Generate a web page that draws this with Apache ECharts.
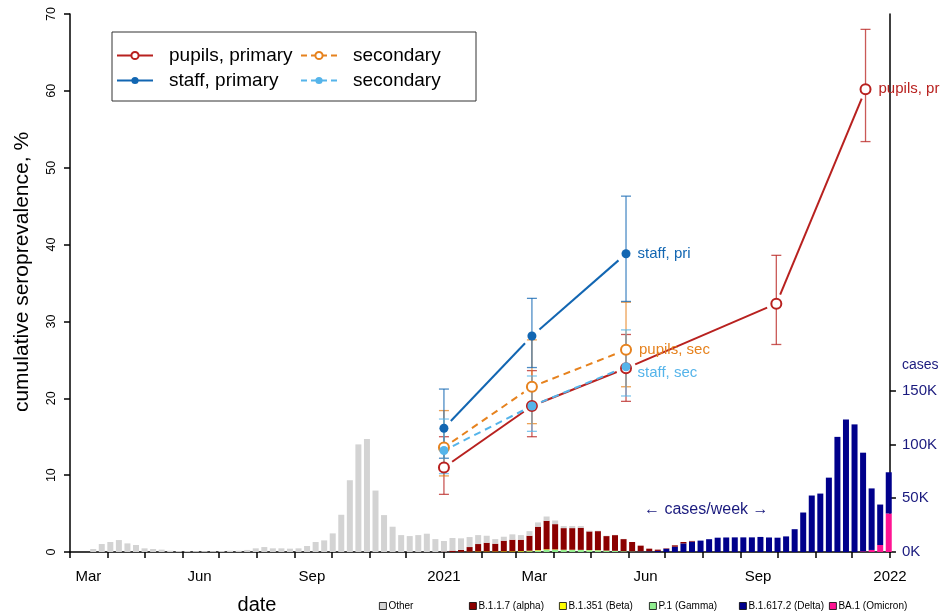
<!DOCTYPE html>
<html><head><meta charset="utf-8">
<script src="https://cdn.jsdelivr.net/npm/echarts@6/dist/echarts.min.js"></script>
<style>html,body{margin:0;padding:0;background:#fff}#c{width:940px;height:616px}</style>
</head><body><div id="c"></div>
<script>
const FONT = '"Liberation Sans", Arial, Helvetica, sans-serif';

// ---- seroprevalence survey rounds ----
const roundDates = ['2021-01-01', '2021-03-14', '2021-05-30', '2021-09-30', '2021-12-12'];
const pupilsPrimary   = [11.0, 19.0, 23.9, 32.3, 60.2];
const pupilsPrimaryLo = [7.5, 15.0, 19.6, 27.0, 53.4];
const pupilsPrimaryHi = [15.0, 23.6, 28.3, 38.6, 68.0];
const pupilsSecondary   = [13.6, 21.5, 26.3];
const pupilsSecondaryLo = [9.9, 16.7, 21.5];
const pupilsSecondaryHi = [18.4, 27.6, 32.5];
const staffPrimary   = [16.1, 28.1, 38.8];
const staffPrimaryLo = [12.2, 24.0, 32.6];
const staffPrimaryHi = [21.2, 33.0, 46.3];
const staffSecondary   = [13.2, 19.0, 24.1];
const staffSecondaryLo = [10.2, 15.7, 20.3];
const staffSecondaryHi = [17.3, 22.9, 28.9];

// ---- weekly cases by variant (thousands), weeks centred from 2020-03-20 ----
const firstWeek = '2020-03-20';
const weekCount = 94;
const otherCases = [2.8,7.4,9.3,11.1,8.0,6.5,3.4,2.8,2.2,1.2,
  0.9,0.9,0.8,0.8,0.8,0.9,1.2,1.2,1.9,3.4,
  4.6,3.4,3.4,3.1,3.4,5.6,9.3,10.8,17.3,34.6,
  66.7,100,105,57.1,34.3,23.5,15.7,14.8,15.7,17.0,
  12.0,9.9,11.8,10.8,9.3,8.3,6.5,4.3,3.7,5.0,
  4.3,4.3,4.0,4.0,3.4,1.9,1.9,1.6,0.7,0.4,
  0.3,0.2,0.2];
const alphaStart = 41;
const alphaCases = [0.3,1.2,1.7,4.3,6.9,8.1,7.2,9.9,10.8,10.5,13.9,21.8,26.5,23.5,20.1,20.1,20.5,17.3,17.7,13.5,14.6,11.3,8.7,5.3,2.4,1.2,0.4,1.3,1.3,0.6];
const betaStart = 43;
const betaCases = [0.2,0.3,0.5,0.5,0.5,0.6,0.6,0.5,0.5,0.5,0.5,0.4,0.3,0.3,0.2,0.2,0.2,0.1,0.1];
const gammaStart = 50;
const gammaCases = [0.4,0.7,1.2,2.0,2.0,1.8,1.8,1.8,1.6,1.5,1.2,1.0,0.7,0.4,0.2,0.1];
const deltaStart = 63;
const deltaCases = [0.2,0.4,0.6,1.0,3.0,4.9,8.0,9.7,10.6,11.9,13.3,13.5,13.6,13.6,13.6,14.0,13.5,13.3,14.5,21.2,36.7,52.5,54.3,69.1,107.0,123.1,118.6,91.7,57.2,37.6,38.3];
const omicronStart = 90;
const omicronCases = [0.6,1.9,6.5,35.8];

// ---- axis ticks / labels ----
const xLabelDates = ['2020-03-16','2020-06-15','2020-09-15','2021-01-01','2021-03-16','2021-06-15','2021-09-15','2022-01-01'];
const xLabelTexts = ['Mar','Jun','Sep','2021','Mar','Jun','Sep','2022'];
const casesTicks = [0, 50, 100, 150];

const C_PP = '#b8211f', C_PS = '#e6821e', C_SP = '#1266b2', C_SS = '#55b4ea';
const NAVY = '#1a1a7e';

function ts(s) { const p = s.split('-').map(Number); return Date.UTC(p[0], p[1] - 1, p[2]); }
const DAY = 86400000;
const xMin = ts('2020-03-01'), xMax = ts('2022-01-01');
const monthTicks = [];
for (let y = 2020, m = 2; ; ) { const t = Date.UTC(y, m, 1); if (t > xMax) break; monthTicks.push(t); m++; if (m > 11) { m = 0; y++; } }
const labelMap = {};
xLabelDates.forEach((d, i) => { labelMap[ts(d)] = xLabelTexts[i]; });

const weekTs = [];
for (let k = 0; k < weekCount; k++) weekTs.push(ts(firstWeek) + k * 7 * DAY);
function full(start, vals) { const a = new Array(weekCount).fill(0); vals.forEach((v, i) => { a[start + i] = v; }); return a; }
const variants = [
  { name: 'BA.1 (Omicron)', color: '#ff1493', vals: full(omicronStart, omicronCases) },
  { name: 'B.1.617.2 (Delta)', color: '#00008b', vals: full(deltaStart, deltaCases) },
  { name: 'P.1 (Gamma)', color: '#90ee90', vals: full(gammaStart, gammaCases) },
  { name: 'B.1.351 (Beta)', color: '#ffff00', vals: full(betaStart, betaCases) },
  { name: 'B.1.1.7 (alpha)', color: '#8b0000', vals: full(alphaStart, alphaCases) },
  { name: 'Other', color: '#d3d3d3', vals: full(0, otherCases) }
];
// value first, date second, so the library stacks the case counts (by index)
const barSeries = variants.map(v => ({
  type: 'bar', name: v.name, stack: 'cases', xAxisIndex: 0, yAxisIndex: 1,
  barWidth: 6, z: 1, itemStyle: { color: v.color },
  encode: { x: 1, y: 0 },
  data: weekTs.map((t, i) => [v.vals[i], t])
}));

function segRender(color, dash) {
  return function (params, api) {
    const a = api.coord([api.value(0), api.value(1)]);
    const b = api.coord([api.value(2), api.value(3)]);
    const dx = b[0] - a[0], dy = b[1] - a[1], L = Math.hypot(dx, dy), g = 10;
    const ux = dx / L, uy = dy / L;
    return { type: 'line', shape: { x1: a[0] + ux * g, y1: a[1] + uy * g, x2: b[0] - ux * g, y2: b[1] - uy * g },
      style: { stroke: color, lineWidth: 2, lineDash: dash, fill: null } };
  };
}
function errRender(color) {
  return function (params, api) {
    const x = api.value(0);
    const lo = api.coord([x, api.value(1)]), hi = api.coord([x, api.value(2)]);
    const w = 5, st = { stroke: color, lineWidth: 1.3, opacity: 0.75 };
    return { type: 'group', children: [
      { type: 'line', shape: { x1: lo[0], y1: lo[1], x2: hi[0], y2: hi[1] }, style: st },
      { type: 'line', shape: { x1: lo[0] - w, y1: lo[1], x2: lo[0] + w, y2: lo[1] }, style: st },
      { type: 'line', shape: { x1: hi[0] - w, y1: hi[1], x2: hi[0] + w, y2: hi[1] }, style: st }
    ] };
  };
}
function groupSeries(name, vals, lo, hi, color, dash, open, labelText, labelOffset) {
  const n = vals.length;
  const segs = [];
  for (let i = 0; i < n - 1; i++) segs.push([ts(roundDates[i]), vals[i], ts(roundDates[i + 1]), vals[i + 1]]);
  const errs = vals.map((v, i) => [ts(roundDates[i]), lo[i], hi[i]]);
  const pts = vals.map((v, i) => {
    const item = { value: [ts(roundDates[i]), v] };
    if (i === n - 1) item.label = { show: true, position: 'right', distance: 7, formatter: labelText,
      color: color, fontSize: 15, fontFamily: FONT, offset: labelOffset || [0, 0] };
    return item;
  });
  return [
    { type: 'custom', name: name + '_seg', renderItem: segRender(color, dash), data: segs,
      encode: { x: [0, 2], y: [1, 3] }, z: 2, silent: true },
    { type: 'custom', name: name + '_err', renderItem: errRender(color), data: errs,
      encode: { x: 0, y: [1, 2] }, z: 3, silent: true },
    { type: 'line', name: name, data: pts, z: 4, symbol: 'circle', symbolSize: open ? 10 : 9,
      showSymbol: true, lineStyle: { opacity: 0 }, color: color,
      itemStyle: open ? { color: '#fff', borderColor: color, borderWidth: 2 } : { color: color, borderWidth: 0 },
      emphasis: { disabled: true } }
  ];
}

const lineSeries = [].concat(
  groupSeries('pupils, primary', pupilsPrimary, pupilsPrimaryLo, pupilsPrimaryHi, C_PP, null, true, 'pupils, pri'),
  groupSeries('pupils, secondary', pupilsSecondary, pupilsSecondaryLo, pupilsSecondaryHi, C_PS, [7, 5], true, 'pupils, sec'),
  groupSeries('staff, primary', staffPrimary, staffPrimaryLo, staffPrimaryHi, C_SP, null, false, 'staff, pri'),
  groupSeries('staff, secondary', staffSecondary, staffSecondaryLo, staffSecondaryHi, C_SS, [7, 5], false, 'staff, sec', [0, 6])
);

const legendText = { fontSize: 19, fontFamily: FONT, color: '#000', padding: [0, 0, 0, 11] };
function lgItem(name, color, dash) { return { name: name, lineStyle: { color: color, width: 2, opacity: 1, type: dash ? [6, 4] : 'solid' } }; }
const variantLegendOrder = ['Other', 'B.1.1.7 (alpha)', 'B.1.351 (Beta)', 'P.1 (Gamma)', 'B.1.617.2 (Delta)', 'BA.1 (Omicron)'];
const variantLegends = variantLegendOrder.map((nm, i) => ({
  data: [nm], left: 379 + 90 * i, top: 601, padding: 0, itemWidth: 7, itemHeight: 7,
  icon: 'rect', itemStyle: { borderColor: '#000', borderWidth: 0.8 },
  textStyle: { fontSize: 10, fontFamily: FONT, color: '#000', padding: [0, 0, 0, -3] }, selectedMode: false
}));

const chart = echarts.init(document.getElementById('c'), null, { renderer: 'canvas' });
chart.setOption({
  animation: false,
  backgroundColor: '#fff',
  grid: { left: 70, right: 49, top: 14, bottom: 64 },
  xAxis: {
    type: 'value', min: xMin, max: xMax,
    axisLine: { show: true, lineStyle: { color: '#000', width: 1.5 } },
    axisTick: { show: true, customValues: monthTicks, length: 6, lineStyle: { color: '#000', width: 1.5 } },
    axisLabel: { customValues: xLabelDates.map(ts), formatter: v => labelMap[v] || '', color: '#000',
      fontSize: 15, fontFamily: FONT, margin: 17 },
    splitLine: { show: false }
  },
  yAxis: [
    { type: 'value', min: 0, max: 70, interval: 10, position: 'left',
      axisLine: { show: true, lineStyle: { color: '#000', width: 1.5 } },
      axisTick: { show: true, length: 6, lineStyle: { color: '#000', width: 1.5 } },
      axisLabel: { rotate: 90, color: '#000', fontSize: 12.5, fontFamily: FONT, margin: 12 },
      splitLine: { show: false } },
    { type: 'value', min: 0, max: 500, position: 'right',
      axisLine: { show: true, lineStyle: { color: '#000', width: 1.5 } },
      axisTick: { show: true, customValues: casesTicks, length: 6, lineStyle: { color: '#000', width: 1.5 } },
      axisLabel: { customValues: casesTicks, formatter: v => v + 'K', color: NAVY, fontSize: 15, fontFamily: FONT, margin: 12 },
      splitLine: { show: false } }
  ],
  legend: [
    { data: [lgItem('pupils, primary', C_PP), lgItem('staff, primary', C_SP)], orient: 'vertical',
      left: 116, top: 46, padding: 0, itemWidth: 36, itemHeight: 9, itemGap: 6, textStyle: legendText, selectedMode: false },
    { data: [lgItem('pupils, secondary', C_PS, true), lgItem('staff, secondary', C_SS, true)], orient: 'vertical',
      left: 300, top: 46, padding: 0, itemWidth: 36, itemHeight: 9, itemGap: 6, textStyle: legendText,
      formatter: () => 'secondary', selectedMode: false }
  ].concat(variantLegends),
  graphic: [
    { type: 'rect', shape: { x: 112, y: 32, width: 364, height: 69 }, style: { fill: '#fff', stroke: '#333', lineWidth: 1 }, z: 0 },
    { type: 'text', x: 22, y: 272, rotation: Math.PI / 2,
      style: { text: 'cumulative seroprevalence, %', font: '21px ' + FONT, fill: '#000', align: 'center', verticalAlign: 'middle', textAlign: 'center', textVerticalAlign: 'middle' } },
    { type: 'text', x: 257, y: 605,
      style: { text: 'date', font: '20px ' + FONT, fill: '#000', align: 'center', verticalAlign: 'middle', textAlign: 'center', textVerticalAlign: 'middle' } },
    { type: 'text', x: 902, y: 365,
      style: { text: 'cases', font: '14px ' + FONT, fill: NAVY, align: 'left', verticalAlign: 'middle', textAlign: 'left', textVerticalAlign: 'middle' } },
    { type: 'text', x: 644, y: 510,
      style: { text: '\u2190 cases/week \u2192', font: '16px ' + FONT, fill: NAVY, align: 'left', verticalAlign: 'middle', textAlign: 'left', textVerticalAlign: 'middle' } }
  ],
  series: barSeries.concat(lineSeries)
});
</script></body></html>
